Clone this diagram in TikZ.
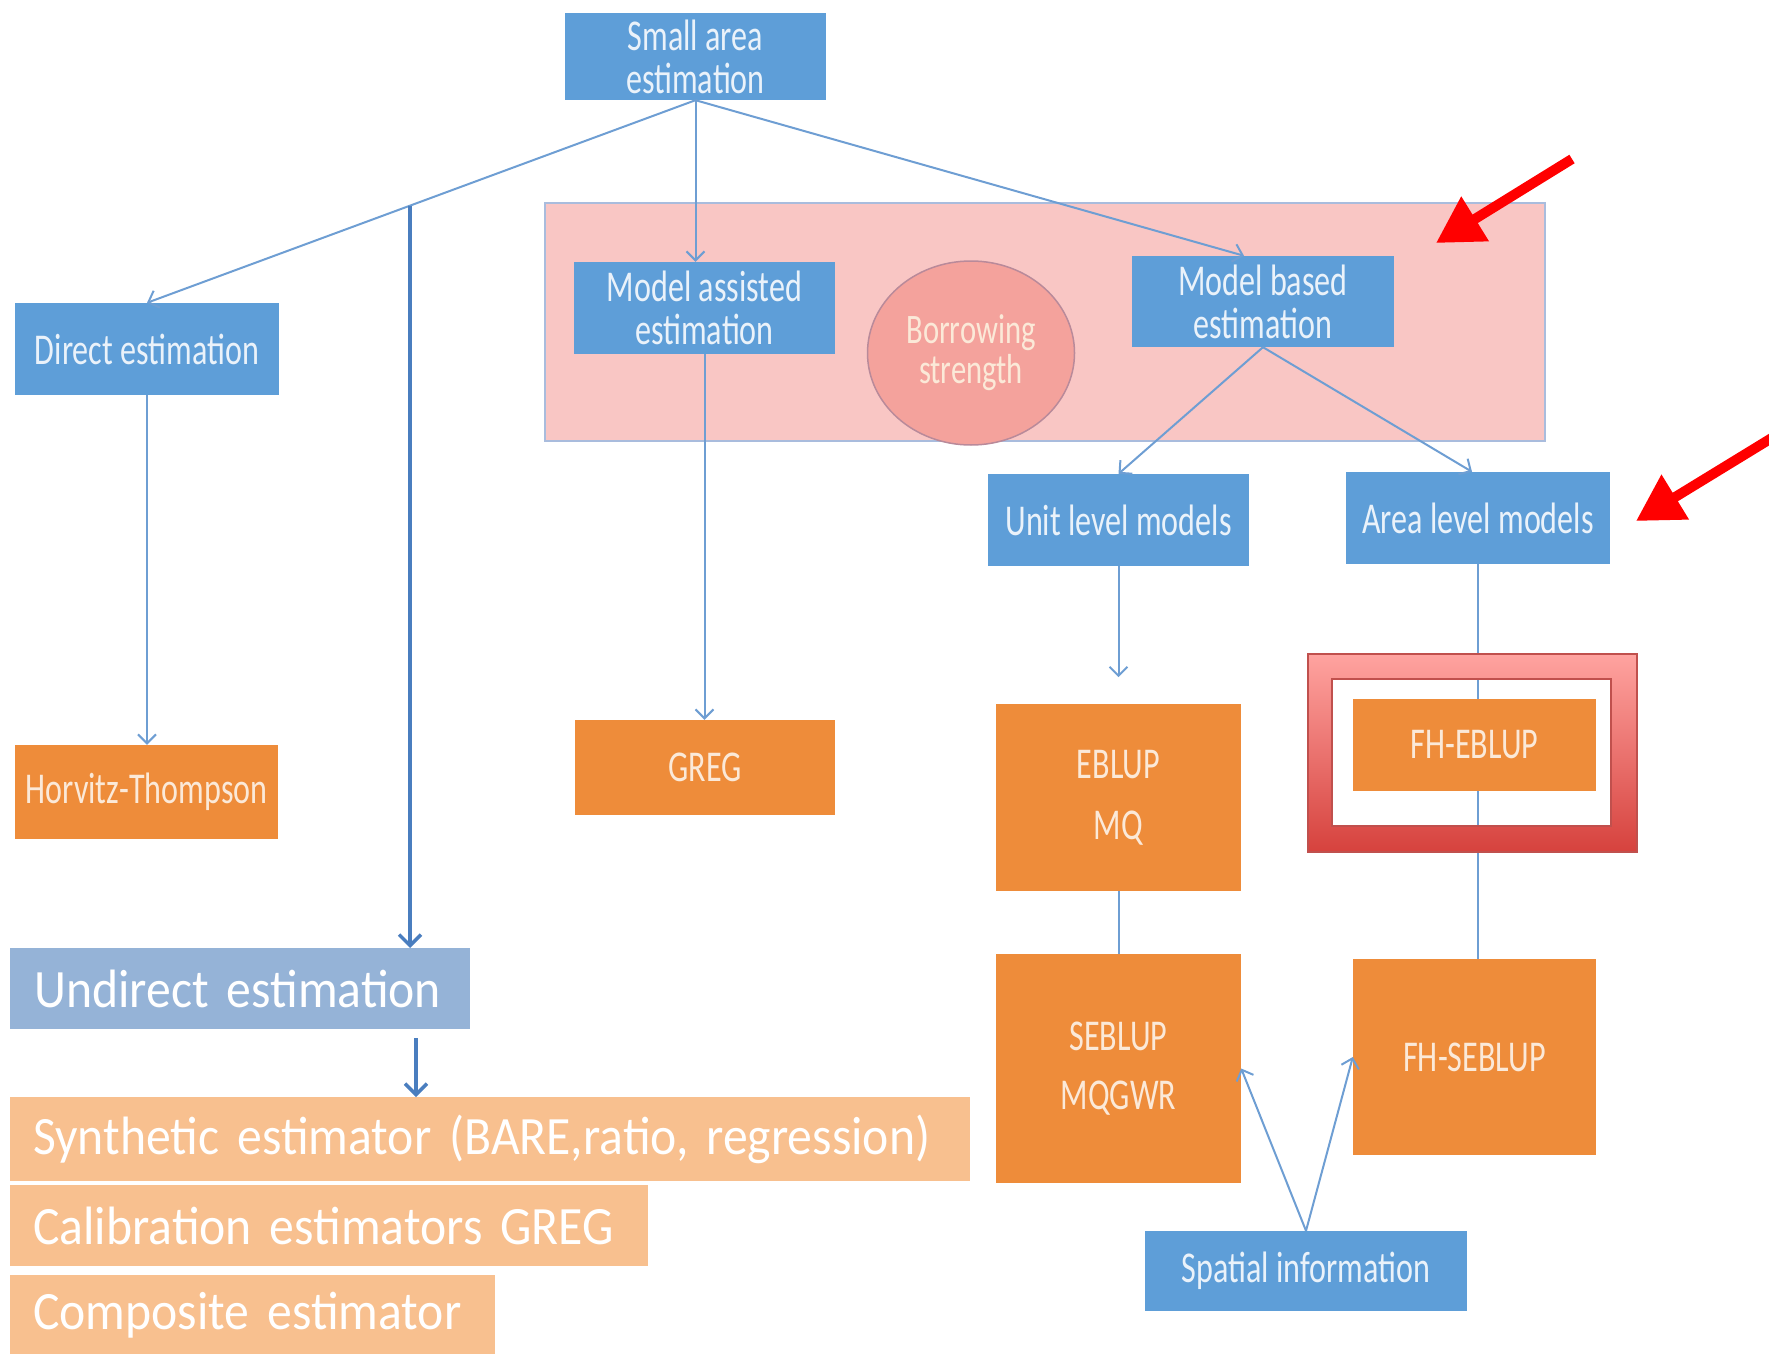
\documentclass[tikz,border=0pt]{standalone}
\usepackage{fontspec}
\setmainfont{Carlito}
\newfontfamily\condfont[FakeStretch=0.73]{Carlito}
\newfontfamily\widefont[FakeStretch=0.92]{Carlito}
\usetikzlibrary{arrows.meta,calc,shapes.geometric}
\definecolor{boxblue}{HTML}{5E9ED8}
\definecolor{boxorange}{HTML}{EE8C3A}
\definecolor{lightorange}{HTML}{F8C08F}
\definecolor{undirblue}{HTML}{95B3D7}
\definecolor{panelpink}{HTML}{F9C6C4}
\definecolor{panelline}{HTML}{A9BCDD}
\definecolor{salmon}{HTML}{F4A29C}
\definecolor{salmonline}{HTML}{B98A9A}
\definecolor{lineblue}{HTML}{6E9ED3}
\definecolor{thickblue}{HTML}{4A7EBF}
\definecolor{framedark}{HTML}{C0504D}
\definecolor{frametop}{HTML}{FFA3A0}
\definecolor{framebot}{HTML}{D6423D}
\definecolor{bluetext}{HTML}{EAF2FA}
\definecolor{orangetext}{HTML}{FBE9D8}
\begin{document}
\begin{tikzpicture}[x=1pt,y=-1pt,
  bluebox/.style={fill=boxblue, text=bluetext, inner sep=0pt, align=center,
    font=\condfont\fontsize{44}{43}\selectfont},
  orangebox/.style={fill=boxorange, text=orangetext, inner sep=0pt, align=center,
    font=\condfont\fontsize{44}{43}\selectfont},
  listbox/.style={fill=lightorange, text=white, anchor=north west, inner xsep=23pt,
    inner ysep=0pt, align=left, font=\widefont\fontsize{54}{54}\selectfont},
  thinarrow/.style={draw=lineblue, line width=2pt, -{Straight Barb[length=9pt,width=18pt]}},
  thinline/.style={draw=lineblue, line width=2pt},
  thickarrow/.style={draw=thickblue, line width=3.5pt, -{Straight Barb[length=11pt,width=22pt]}},
  redarrow/.style={draw=red, line width=10pt, -{Triangle[length=46pt,width=50pt]}}
]
\useasboundingbox (0,0) rectangle (1769,1354);

% pink panel and borrowing strength ellipse
\node[fill=panelpink, draw=panelline, line width=1.5pt, minimum width=1000pt,
  minimum height=238pt, inner sep=0pt] (panel) at (1045,322) {};
\node[ellipse, fill=salmon, draw=salmonline, line width=1.5pt, minimum width=207pt,
  minimum height=184pt, inner sep=0pt, text=orangetext, align=center,
  font=\condfont\fontsize{42}{40}\selectfont] (bs) at (971,353) {Borrowing\\strength};

% blue boxes
\node[bluebox, minimum width=261pt, minimum height=87pt] (sa) at (695.5,56.5) {Small area\\estimation};
\node[bluebox, minimum width=264pt, minimum height=92pt] (de) at (147,349) {Direct estimation};
\node[bluebox, minimum width=261pt, minimum height=92pt] (ma) at (704.5,308) {Model assisted\\estimation};
\node[bluebox, minimum width=262pt, minimum height=91pt] (mb) at (1263,301.5) {Model based\\estimation};
\node[bluebox, minimum width=261pt, minimum height=92pt] (ul) at (1118.5,520) {Unit level models};
\node[bluebox, minimum width=264pt, minimum height=92pt] (al) at (1478,518) {Area level models};
\node[bluebox, minimum width=322pt, minimum height=80pt] (sp) at (1306,1271) {Spatial information};

% orange boxes
\node[orangebox, minimum width=263pt, minimum height=94pt] (ht) at (146.5,792) {Horvitz-Thompson};
\node[orangebox, minimum width=260pt, minimum height=95pt] (greg) at (705,767.5) {GREG};
\node[orangebox, minimum width=245pt, minimum height=187pt] (eb) at (1118.5,797.5) {EBLUP\\[18pt]MQ};
\node[orangebox, minimum width=245pt, minimum height=229pt] (seb) at (1118.5,1068.5) {SEBLUP\\[16pt]MQGWR};
\node[orangebox, minimum width=243pt, minimum height=196pt] (fhs) at (1474.5,1057) {FH-SEBLUP};

% undirect estimation and list
\node[fill=undirblue, text=white, anchor=north west, inner xsep=24pt, inner ysep=0pt,
  text width=412pt, minimum height=81pt, align=left,
  font=\widefont\fontsize{54}{54}\selectfont] (ue) at (10,948) {Undirect estimation};
\node[listbox, text width=914pt, minimum height=84pt] (syn) at (10,1097) {Synthetic estimator (BARE,ratio, regression)};
\node[listbox, text width=592pt, minimum height=81pt] (cal) at (10,1185) {Calibration estimators GREG};
\node[listbox, text width=439pt, minimum height=79pt] (comp) at (10,1275) {Composite estimator};

% connectors
\draw[thinarrow] (sa.south) -- (de.north);
\draw[thinarrow] (sa.south) -- (sa.south |- ma.north);
\draw[thinarrow] (sa.south) -- ($(mb.north)+(-19,0)$);
\draw[thinarrow] (de.south) -- (de.south |- ht.north);
\draw[thinarrow] (ma.south) -- (ma.south |- greg.north);
\draw[thinarrow] (mb.south) -- (ul.north);
\draw[thinarrow] (mb.south) -- ($(al.north)+(-6,0)$);
\coordinate (ulend) at ($(ul.south)+(0,111)$);
\draw[thinarrow] (ul.south) -- (ulend);
\draw[thinline] (eb.south) -- (eb.south |- seb.north);
\draw[thinarrow] (sp.north) -- (seb.east);
\draw[thinarrow] (sp.north) -- (fhs.west);

\coordinate (split) at ($(sa.south)!0.5205!(de.north)$);
\draw[thickarrow] (split) -- (split |- ue.north);
\coordinate (u2) at (416,1038);
\draw[thickarrow] (u2) -- (u2 |- syn.north);

% area level line through highlight frame
\draw[thinline] (al.south) -- (al.south |- fhs.north);

% highlight frame
\shade[top color=frametop, bottom color=framebot, even odd rule]
  (1308,654) rectangle (1637,852) (1332,679) rectangle (1611,826);
\draw[framedark, line width=2pt] (1308,654) rectangle (1637,852);
\draw[framedark, line width=2pt] (1332,679) rectangle (1611,826);
\node[orangebox, minimum width=243pt, minimum height=92pt] (fhe) at (1474.5,745) {FH-EBLUP};

% red pointer arrows
\coordinate (r1s) at (1572,159);
\coordinate (r1e) at (1436,243);
\draw[redarrow] (r1s) -- (r1e);
\coordinate (r2s) at (1775,436);
\coordinate (r2e) at (1636,521);
\draw[redarrow] (r2s) -- (r2e);
\end{tikzpicture}
\end{document}
